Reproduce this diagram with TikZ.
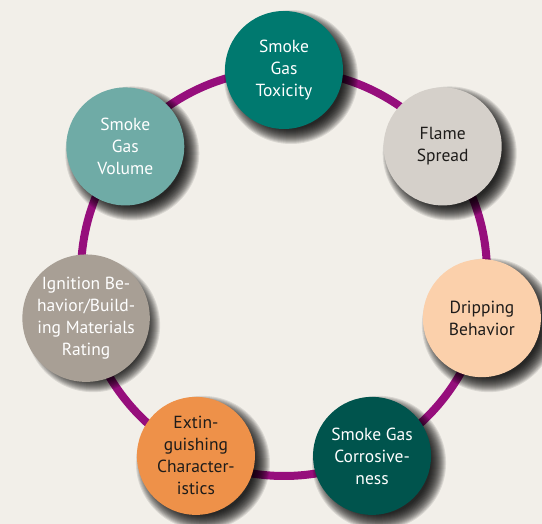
\documentclass[tikz,border=0pt]{standalone}
\usepackage{fontspec}
\setmainfont{PT Sans}
\usepackage{tikz}
\usetikzlibrary{backgrounds}
\definecolor{paper}{RGB}{242,239,233}
\definecolor{ringpurple}{RGB}{150,14,124}
\definecolor{toxteal}{RGB}{0,121,111}
\definecolor{flamegrey}{RGB}{213,208,202}
\definecolor{drippeach}{RGB}{251,208,171}
\definecolor{corrteal}{RGB}{0,84,77}
\definecolor{extorange}{RGB}{238,145,73}
\definecolor{igntaupe}{RGB}{168,159,149}
\definecolor{volteal}{RGB}{111,171,166}
\definecolor{inkdark}{RGB}{30,28,26}

\begin{document}
\begin{tikzpicture}[x=1pt, y=1pt, font=\fontsize{17.5}{22}\selectfont,
	topic/.style={circle, minimum size=118pt, inner sep=0pt, align=center}]
			\useasboundingbox (-284,-251) rectangle (258,273);
			% topics round the ring
			\node[topic, fill=toxteal, text=white]   (toxicity) at (90:203)      {Smoke\\Gas\\Toxicity};
			\node[topic, fill=flamegrey, text=inkdark] (flame)  at (38.57:203)   {Flame\\Spread};
			\node[topic, fill=drippeach, text=inkdark] (drip)   at (-12.86:203)  {Dripping\\Behavior};
			\node[topic, fill=corrteal, text=white]  (corrosion) at (-64.29:203) {Smoke Gas\\Corrosive-\\ness};
			\node[topic, fill=extorange, text=inkdark] (extinguish) at (-115.71:203) {Extin-\\guishing\\Character-\\istics};
			\node[topic, fill=igntaupe, text=white]  (ignition) at (-167.14:203) {Ignition Be-\\havior/Build-\\ing Materials\\Rating};
			\node[topic, fill=volteal, text=white]   (volume)   at (141.43:203)  {Smoke\\Gas\\Volume};
			\begin{scope}[on background layer]
				% background and frame
				\fill[paper] (-284,-251) rectangle (258,273);
				% the ring
				\coordinate (hub) at (0,0);
				\draw[ringpurple, line width=8pt] (hub) circle (203);
				% soft drop shadows
				\foreach \topic in {toxicity,flame,drip,corrosion,extinguish,ignition,volume}
					\foreach \k in {1,...,16}
						\fill[black, opacity=0.1] ([shift={(7,-7)}]\topic.center) circle ({51+\k});
			\end{scope}
		\end{tikzpicture}
\end{document}
